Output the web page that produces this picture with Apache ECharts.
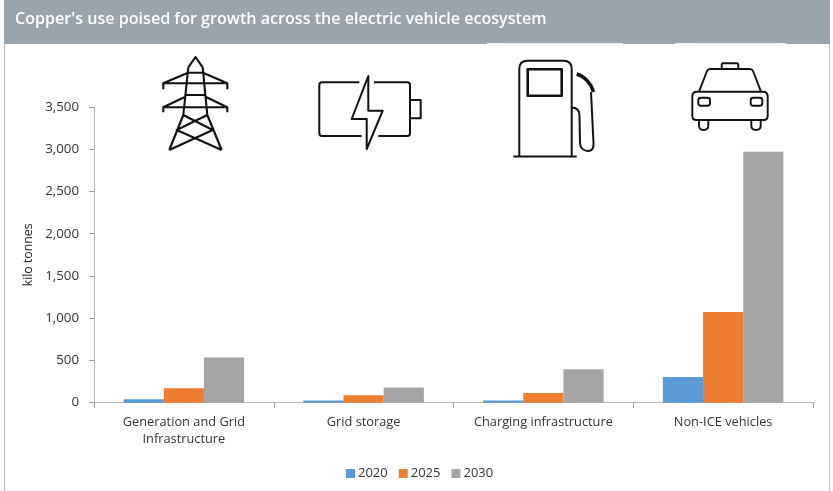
<!DOCTYPE html>
<html>
<head>
<meta charset="utf-8">
<style>html,body{margin:0;padding:0;background:#fff}#chart{width:833px;height:491px}</style>
<script src="https://cdn.jsdelivr.net/npm/echarts@6/dist/echarts.min.js"></script>
</head>
<body>
<div id="chart"></div>
<script>
const categories = ['Generation and Grid\nInfrastructure', 'Grid storage', 'Charging infrastructure', 'Non-ICE vehicles'];
const values2020 = [40, 25, 25, 304];
const values2025 = [170, 87, 114, 1073];
const values2030 = [535, 181, 395, 2970];
const titleText = "Copper's use poised for growth across the electric vehicle ecosystem";

const FONT = '"Open Sans", sans-serif';
const INK = '#111';

// Outline pictograms above each category group
const towerPath = 'M188.3,67.3 L195.5,57 L202.7,67.3 M188.3,67.3 L183.3,115 L169.3,150 M202.7,67.3 L207.3,115 L221.7,150 ' +
  'M188,72.7 L163.3,83.3 L163.3,89.3 M163.3,83.3 L227.3,83.3 L227.3,89.3 M203,72.7 L227.3,83.3 ' +
  'M185.3,96.7 L163.3,107.3 L163.3,112.3 M163.3,107.3 L227.3,107.3 L227.3,112.3 M205.5,96.7 L227.3,107.3 ' +
  'M188,72.7 L203,72.7 M186,95 L205.5,95 ' +
  'M183.3,115 L212.7,130 L169.3,150 M207.3,115 L176.7,130 L221.7,150';
const batteryPath = 'M359.3,82.3 L322,82.3 Q319.3,82.3 319.3,85 L319.3,133.3 Q319.3,136 322,136 L361.7,136 ' +
  'M374,82.3 L407.3,82.3 Q410,82.3 410,85 L410,133.3 Q410,136 407.3,136 L378.3,136 ' +
  'M410,100 L420.7,100 L420.7,118.3 L410,118.3';
const boltPath = 'M368.3,76 L351.7,119 L366.7,119 L366.7,149 L382.7,110.7 L368.3,110.7 Z';
const pumpPath = 'M519.3,156 L519.3,69 Q519.3,60.7 527.6,60.7 L563.4,60.7 Q571.7,60.7 571.7,69 L571.7,156 M513.3,156.5 L576.7,156.5 ' +
  'M571.7,107.5 C577,107.5 579.5,110 579.5,116 L580,143 C580,148 584,151 588,151 C592,151 594,148 593.5,143 L591,92';
const pumpWindowPath = 'M527.7,69.3 L561.7,69.3 L561.7,95.7 L527.7,95.7 Z';
const nozzlePath = 'M576.7,74 C584,76 591,83 593.5,92';
const carPath = 'M697,91.7 L763,91.7 Q767.7,91.7 767.7,96.4 L767.7,116 Q767.7,120 763.7,120 L696.3,120 Q692.3,120 692.3,116 L692.3,96.4 Q692.3,91.7 697,91.7 Z ' +
  'M699,91.7 L707,71 Q708,69 710,69 L750,69 Q752,69 753,71 L761,91.7 ' +
  'M721.7,69 L721.7,65 Q721.7,63.3 723.4,63.3 L736.6,63.3 Q738.3,63.3 738.3,65 L738.3,69 ' +
  'M701,97.7 L707.5,97.7 Q710,97.7 710,100.2 L710,103.2 Q710,105.7 707.5,105.7 L701,105.7 Q698.3,105.7 698.3,103.2 L698.3,100.2 Q698.3,97.7 701,97.7 Z ' +
  'M753.2,97.7 L759.8,97.7 Q762.3,97.7 762.3,100.2 L762.3,103.2 Q762.3,105.7 759.8,105.7 L753.2,105.7 Q750.7,105.7 750.7,103.2 L750.7,100.2 Q750.7,97.7 753.2,97.7 Z ' +
  'M699,120.7 L699,125.5 Q699,130 703.6,130 Q708.3,130 708.3,125.5 L708.3,120.7 ' +
  'M751.3,120.7 L751.3,125.5 Q751.3,130 756,130 Q760.7,130 760.7,125.5 L760.7,120.7';

// Each pictogram outline becomes a named shape the graphic component can place
function icon(name, pathData, lineWidth) {
  echarts.graphic.registerShape(name, echarts.graphic.extendPath(pathData, {}));
  return {
    type: name,
    silent: true,
    style: { fill: null, stroke: INK, lineWidth: lineWidth, lineJoin: 'round', lineCap: 'butt' }
  };
}

function barSeries(name, data, color) {
  return { name: name, type: 'bar', data: data, barGap: 0, barCategoryGap: '33%', itemStyle: { color: color } };
}

const chart = echarts.init(document.getElementById('chart'), null, { renderer: 'canvas' });
chart.setOption({
  animation: false,
  backgroundColor: '#fff',
  grid: { left: 94, right: 20, top: 107, bottom: 88.3, containLabel: false },
  legend: {
    data: ['2020', '2025', '2030'],
    left: 341, top: 462,
    icon: 'rect', itemWidth: 9, itemHeight: 9, itemGap: 11,
    textStyle: { fontFamily: FONT, fontSize: 13, color: '#333', padding: [0, 0, 0, -2] }
  },
  xAxis: {
    type: 'category',
    data: categories,
    axisLine: { lineStyle: { color: '#b5b5b5', width: 1 } },
    axisTick: { show: true, length: 5, lineStyle: { color: '#9a9a9a' } },
    axisLabel: { fontFamily: FONT, fontSize: 12.8, color: '#333', lineHeight: 17, margin: 11, interval: 0 }
  },
  yAxis: {
    type: 'value',
    min: 0, max: 3500, interval: 500,
    name: 'kilo tonnes',
    nameLocation: 'middle',
    nameGap: 56,
    nameTextStyle: { fontFamily: FONT, fontSize: 12.3, color: '#222' },
    splitLine: { show: false },
    axisLine: { show: true, lineStyle: { color: '#b5b5b5', width: 1 } },
    axisTick: { show: true, length: 5, lineStyle: { color: '#9a9a9a' } },
    axisLabel: {
      fontFamily: FONT, fontSize: 13.3, color: '#333', margin: 15,
      formatter: v => v.toLocaleString('en-US')
    }
  },
  series: [
    barSeries('2020', values2020, '#5b9bd5'),
    barSeries('2025', values2025, '#ed7d31'),
    barSeries('2030', values2030, '#a5a5a5')
  ],
  graphic: [
    // Header band and page frame
    { type: 'rect', silent: true, shape: { x: 4, y: 0, width: 826, height: 44 }, style: { fill: '#9aa4ac' } },
    { type: 'rect', silent: true, shape: { x: 487, y: 43, width: 136, height: 1 }, style: { fill: '#f2f3f4' } },
    { type: 'rect', silent: true, shape: { x: 675, y: 43, width: 111, height: 1 }, style: { fill: '#f2f3f4' } },
    { type: 'rect', silent: true, shape: { x: 4, y: 44, width: 1, height: 447 }, style: { fill: '#b4bac0' } },
    { type: 'rect', silent: true, shape: { x: 829, y: 44, width: 1, height: 447 }, style: { fill: '#b4bac0' } },
    {
      type: 'text', silent: true, x: 15, y: 19,
      style: { text: titleText, fill: '#fff', fontFamily: FONT, fontSize: 16.1, fontWeight: 600, verticalAlign: 'middle' }
    },
    icon('towerIcon', towerPath, 2.1),
    icon('batteryIcon', batteryPath, 2),
    icon('boltIcon', boltPath, 2),
    icon('pumpIcon', pumpPath, 2),
    icon('pumpWindowIcon', pumpWindowPath, 2.6),
    icon('nozzleIcon', nozzlePath, 3.4),
    icon('carIcon', carPath, 1.9)
  ]
});
</script>
</body>
</html>
